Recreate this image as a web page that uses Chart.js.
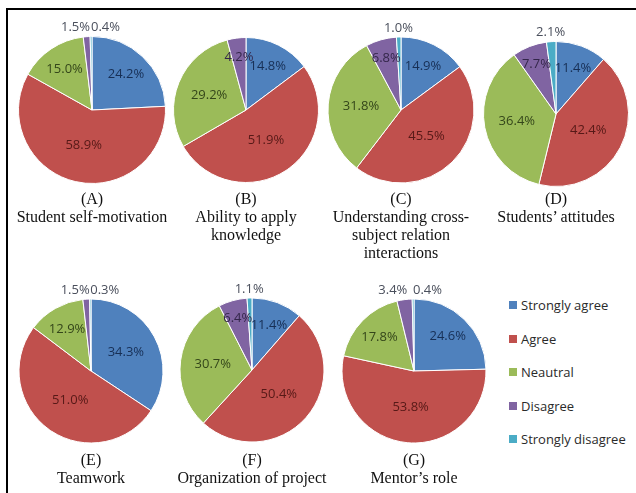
<!DOCTYPE html>
<html>
<head>
<meta charset="utf-8">
<script src="https://cdn.jsdelivr.net/npm/chart.js@4/dist/chart.umd.min.js"></script>
<style>
  body { margin: 0; background: #fff; }
  #wrap { position: relative; width: 636px; height: 493px; overflow: hidden; background: #fff; }
  #frame { position: absolute; left: 6px; top: 8px; right: 0; bottom: 0; border-top: 2px solid #000; border-left: 2px solid #000; }
  canvas { position: absolute; }
  .title { position: absolute; width: 180px; text-align: center; font: 16px "Liberation Serif", "Times New Roman", serif; line-height: 18px; color: #111; white-space: nowrap; }
  #legend { position: absolute; left: 509px; top: 296px; font: 13px "Open Sans", sans-serif; color: #2a2a2a; }
  #legend div { height: 33.5px; display: flex; align-items: flex-start; }
  #legend span.box { display: inline-block; width: 8px; height: 8px; margin: 5px 4px 0 0; }
</style>
</head>
<body>
<div id="wrap">
  <div id="frame"></div>
  <div id="legend"></div>
</div>
<script>
// answer categories and colours
const categories = ["Strongly agree", "Agree", "Neautral", "Disagree", "Strongly disagree"];
const colors = ["#4f81bd", "#c0504d", "#9bbb59", "#8064a2", "#4bacc6"];
const labelColors = ["#172f55", "#561917", "#34461a", "#33264a", "#1b4a57"];

// percentages for each panel (A)..(G)
const selfMotivation = [24.2, 58.9, 15.0, 1.5, 0.4];
const applyKnowledge = [14.8, 51.9, 29.2, 4.2, 0];
const crossSubject = [14.9, 45.5, 31.8, 6.8, 1.0];
const attitudes = [11.4, 42.4, 36.4, 7.7, 2.1];
const teamwork = [34.3, 51.0, 12.9, 1.5, 0.3];
const organization = [11.4, 50.4, 30.7, 6.4, 1.1];
const mentorRole = [24.6, 53.8, 17.8, 3.4, 0.4];

const titles = [
  ["(A)", "Student self-motivation"],
  ["(B)", "Ability to apply", "knowledge"],
  ["(C)", "Understanding cross-", "subject relation", "interactions"],
  ["(D)", "Students\u2019 attitudes"],
  ["(E)", "Teamwork"],
  ["(F)", "Organization of project"],
  ["(G)", "Mentor\u2019s role"]
];

const series = [selfMotivation, applyKnowledge, crossSubject, attitudes, teamwork, organization, mentorRole];

// where each pie sits on the page
const panels = [
  { cx: 92, cy: 110, r: 73.5, ty: 190 },
  { cx: 246, cy: 110, r: 72.5, ty: 190 },
  { cx: 401, cy: 110, r: 73, ty: 190 },
  { cx: 556, cy: 114, r: 72.5, ty: 190 },
  { cx: 91, cy: 371, r: 72, ty: 451 },
  { cx: 252, cy: 370, r: 72, ty: 451 },
  { cx: 414, cy: 371, r: 72, ty: 451 }
];

const SIZE = 200;
const wrap = document.getElementById("wrap");

// percentage labels, inside the slice or just above the pie for tiny slices
const pieLabels = {
  id: "pieLabels",
  afterDatasetsDraw(chart) {
    const ctx = chart.ctx;
    const vals = chart.data.datasets[0].data;
    const arcs = chart.getDatasetMeta(0).data;
    const smallD = vals[3] < 4;
    ctx.save();
    ctx.font = '13px "Open Sans", sans-serif';
    ctx.textBaseline = "middle";
    arcs.forEach((arc, i) => {
      const v = vals[i];
      if (!v) return;
      const p = arc.getProps(["x", "y", "startAngle", "endAngle", "outerRadius"], true);
      const mid = (p.startAngle + p.endAngle) / 2;
      const txt = v.toFixed(1) + "%";
      if (v < 4) {
        const rr = p.outerRadius + 9;
        let x = p.x + Math.cos(mid) * rr;
        const y = p.y + Math.sin(mid) * rr;
        ctx.fillStyle = "#4a4f5c";
        if (smallD && i === 3) { ctx.textAlign = "right"; x += 4; }
        else if (smallD && i === 4) { ctx.textAlign = "left"; x += 0; }
        else ctx.textAlign = "center";
        ctx.fillText(txt, x, y);
      } else {
        let f = 0.67;
        if (v >= 40) f = 0.5;
        else if (v >= 25) f = 0.55;
        else if (v < 10) f = 0.74;
        ctx.fillStyle = labelColors[i];
        ctx.textAlign = "center";
        ctx.fillText(txt, p.x + Math.cos(mid) * p.outerRadius * f, p.y + Math.sin(mid) * p.outerRadius * f);
      }
    });
    ctx.restore();
  }
};

series.forEach((vals, k) => {
  const pos = panels[k];
  const cv = document.createElement("canvas");
  cv.width = SIZE;
  cv.height = SIZE;
  cv.style.left = (pos.cx - SIZE / 2) + "px";
  cv.style.top = (pos.cy - SIZE / 2) + "px";
  wrap.appendChild(cv);
  const pad = (SIZE - 2 * pos.r - 1) / 2;
  new Chart(cv, {
    type: "pie",
    data: {
      labels: categories,
      datasets: [{
        data: vals,
        backgroundColor: colors,
        borderColor: "#ffffff",
        borderWidth: 1
      }]
    },
    options: {
      responsive: false,
      animation: false,
      events: [],
      layout: { padding: pad },
      plugins: { legend: { display: false }, tooltip: { enabled: false } }
    },
    plugins: [pieLabels]
  });

  const t = document.createElement("div");
  t.className = "title";
  t.style.left = (pos.cx - 90) + "px";
  t.style.top = pos.ty + "px";
  t.innerHTML = titles[k].join("<br>");
  wrap.appendChild(t);
});

// legend to the right of panel (G)
const legend = document.getElementById("legend");
categories.forEach((c, i) => {
  const row = document.createElement("div");
  row.innerHTML = '<span class="box" style="background:' + colors[i] + '"></span>' + c;
  legend.appendChild(row);
});
</script>
</body>
</html>
